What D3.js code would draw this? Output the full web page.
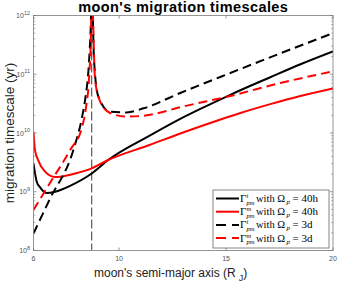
<!DOCTYPE html>
<html>
<head>
<meta charset="utf-8">
<script src="https://cdn.jsdelivr.net/npm/d3@7"></script>
<style>
  body { margin: 0; background: #fff; }
  svg { display: block; }
</style>
</head>
<body>
<div id="chart"></div>
<script>
// moon semi-major axis (R_J) and timescales (yr)
const xTidal40h = [6, 6.15, 6.3, 6.62, 7.01, 7.71, 8.72, 9.49, 11.45, 12.86, 13.8, 15.2, 17.07, 18.48, 20];
const tidal40h  = [3.0e9, 1.48e9, 1.2e9, 9.5e8, 1.0e9, 1.26e9, 2.04e9, 3.47e9, 9.1e9, 1.74e10, 2.57e10, 4.47e10, 8.9e10, 1.48e11, 2.45e11];

const xMig40h = [6, 6.07, 6.21, 6.54, 7.01, 7.24, 7.94, 8.72, 9.49, 11.45, 12.86, 14.26, 15.67, 17.07, 18.48, 20];
const mig40h  = [1.05e10, 5.1e9, 3.5e9, 2.2e9, 1.78e9, 1.8e9, 2.04e9, 2.5e9, 3.47e9, 6.3e9, 9.8e9, 1.48e10, 2.19e10, 3.1e10, 4.27e10, 5.75e10];

const xTidal3d = [6, 6.77, 7.86, 8.27, 8.41, 8.6, 8.67, 8.725, 8.83, 9.03, 9.58, 10.36, 11.14, 12.86, 15.2, 17.5, 20];
const tidal3d  = [1.95e8, 7.6e8, 5.1e9, 1.86e10, 3.6e10, 1.74e11, 5.6e11, 2.5e12, 1.74e11, 4.2e10, 2.3e10, 2.24e10, 2.63e10, 4.8e10, 1.05e11, 2.24e11, 5.0e11];

const xMig3d = [6, 6.77, 7.71, 8.27, 8.46, 8.6, 8.68, 8.725, 8.88, 9.11, 9.58, 10.36, 11.45, 12.86, 15.2, 17.54, 20];
const mig3d  = [4.9e8, 1.41e9, 5.1e9, 1.26e10, 2.8e10, 8.9e10, 4.0e11, 2.5e12, 7.9e10, 3.5e10, 2.19e10, 1.9e10, 2.04e10, 2.75e10, 4.27e10, 7.1e10, 1.12e11];

const corotation = 8.72;   // vertical dashed marker
const xTicks = [6, 10, 15, 20];
const yExps = [8, 9, 10, 11, 12];

const W = 338, H = 285;
const margin = { top: 15.5, right: 5, bottom: 34.5, left: 33.5 };

const svg = d3.select('#chart').append('svg')
  .attr('width', W)
  .attr('height', H);

const x = d3.scaleLinear().domain([6, 20]).range([margin.left, W - margin.right]);
const y = d3.scaleLog().domain([1e8, 1e12]).range([H - margin.bottom, margin.top]);

svg.append('clipPath').attr('id', 'plot')
  .append('rect')
  .attr('x', x(6)).attr('y', y(1e12))
  .attr('width', x(20) - x(6)).attr('height', y(1e8) - y(1e12));

const plot = svg.append('g').attr('clip-path', 'url(#plot)');

// vertical marker
plot.append('line')
  .attr('x1', x(corotation)).attr('x2', x(corotation))
  .attr('y1', y(1e12)).attr('y2', y(1e8))
  .attr('stroke', '#4d4d4d')
  .attr('stroke-width', 1.1)
  .attr('stroke-dasharray', '9,3');

const series = [
  { xs: xTidal40h, ys: tidal40h, color: '#000', dash: null },
  { xs: xMig40h, ys: mig40h, color: '#ff0000', dash: null },
  { xs: xTidal3d, ys: tidal3d, color: '#000', dash: '9,5' },
  { xs: xMig3d, ys: mig3d, color: '#ff0000', dash: '9,5' }
];

const line = d3.line()
  .x(d => x(d[0]))
  .y(d => y(d[1]))
  .curve(d3.curveMonotoneX);

series.forEach(s => {
  plot.append('path')
    .datum(s.xs.map((v, i) => [v, s.ys[i]]))
    .attr('fill', 'none')
    .attr('stroke', s.color)
    .attr('stroke-width', 2)
    .attr('stroke-dasharray', s.dash)
    .attr('d', line);
});

// axes box
const axisColor = '#7a7a7a';
const labelColor = '#555';
const x0 = x(6), x1 = x(20), y0 = y(1e8), y1 = y(1e12);

svg.append('rect')
  .attr('x', x0).attr('y', y1)
  .attr('width', x1 - x0).attr('height', y0 - y1)
  .attr('fill', 'none')
  .attr('stroke', axisColor)
  .attr('stroke-width', 0.8);

// x ticks, top and bottom, pointing in
xTicks.forEach(t => {
  svg.append('line').attr('x1', x(t)).attr('x2', x(t)).attr('y1', y0).attr('y2', y0 - 3)
    .attr('stroke', axisColor).attr('stroke-width', 0.8);
  svg.append('line').attr('x1', x(t)).attr('x2', x(t)).attr('y1', y1).attr('y2', y1 + 3)
    .attr('stroke', axisColor).attr('stroke-width', 0.8);
  svg.append('text')
    .attr('x', x(t)).attr('y', y0 + 10.5)
    .attr('text-anchor', 'middle')
    .attr('font-family', 'Liberation Sans, Arial, sans-serif')
    .attr('font-size', 7)
    .attr('fill', labelColor)
    .text(t);
});

// y ticks: majors and log minors on both sides
yExps.forEach(e => {
  const v = Math.pow(10, e);
  svg.append('line').attr('x1', x0).attr('x2', x0 + 3).attr('y1', y(v)).attr('y2', y(v))
    .attr('stroke', axisColor).attr('stroke-width', 0.8);
  svg.append('line').attr('x1', x1).attr('x2', x1 - 3).attr('y1', y(v)).attr('y2', y(v))
    .attr('stroke', axisColor).attr('stroke-width', 0.8);
  if (e < 12) {
    for (let m = 2; m <= 9; m++) {
      const mv = m * v;
      svg.append('line').attr('x1', x0).attr('x2', x0 + 1.8).attr('y1', y(mv)).attr('y2', y(mv))
        .attr('stroke', axisColor).attr('stroke-width', 0.6);
      svg.append('line').attr('x1', x1).attr('x2', x1 - 1.8).attr('y1', y(mv)).attr('y2', y(mv))
        .attr('stroke', axisColor).attr('stroke-width', 0.6);
    }
  }
  const lbl = svg.append('text')
    .attr('x', x0 - 3.5).attr('y', y(v) + 2.5)
    .attr('text-anchor', 'end')
    .attr('font-family', 'Liberation Sans, Arial, sans-serif')
    .attr('font-size', 7)
    .attr('fill', labelColor);
  lbl.append('tspan').text('10');
  lbl.append('tspan').attr('dy', -3.5).attr('font-size', 5.5).text(e);
});

// title and axis labels
svg.append('text')
  .attr('x', (x0 + x1) / 2).attr('y', 12)
  .attr('text-anchor', 'middle')
  .attr('font-family', 'Liberation Sans, Arial, sans-serif')
  .attr('font-size', 14.5)
  .attr('font-weight', 'bold')
  .attr('letter-spacing', 0.4)
  .attr('fill', '#000')
  .text("moon's migration timescales");

svg.append('text')
  .attr('transform', `translate(13.5,${(y0 + y1) / 2}) rotate(-90)`)
  .attr('text-anchor', 'middle')
  .attr('font-family', 'Liberation Sans, Arial, sans-serif')
  .attr('font-size', 13.5)
  .attr('fill', '#222')
  .text('migration timescale (yr)');

const xl = svg.append('text')
  .attr('x', 94).attr('y', 277)
  .attr('font-family', 'Liberation Sans, Arial, sans-serif')
  .attr('font-size', 12)
  .attr('fill', '#222');
xl.append('tspan').text("moon's semi-major axis (R");
xl.append('tspan').attr('dx', 3).attr('dy', 4).attr('font-size', 9).text('J');
xl.append('tspan').attr('dy', -4).text(')');

// legend
const legendItems = [
  { sup: 't', val: '40h', color: '#000', dash: null },
  { sup: 'm', val: '40h', color: '#ff0000', dash: null },
  { sup: 't', val: '3d', color: '#000', dash: '10,6' },
  { sup: 'm', val: '3d', color: '#ff0000', dash: '10,6' }
];

const lg = svg.append('g');
lg.append('rect')
  .attr('x', 213).attr('y', 190)
  .attr('width', 116).attr('height', 58)
  .attr('fill', '#fff')
  .attr('stroke', '#666')
  .attr('stroke-width', 0.8);

const serif = 'Liberation Serif, Times New Roman, serif';
legendItems.forEach((d, i) => {
  const cy = 198.5 + i * 13.2;
  lg.append('line')
    .attr('x1', 216).attr('x2', 239)
    .attr('y1', cy).attr('y2', cy)
    .attr('stroke', d.color)
    .attr('stroke-width', 2)
    .attr('stroke-dasharray', d.dash);
  const base = cy + 3.5;
  lg.append('text').attr('x', 240).attr('y', base)
    .attr('font-family', serif).attr('font-size', 11).text('Γ');
  lg.append('text').attr('x', 246.5).attr('y', base - 4)
    .attr('font-family', serif).attr('font-size', 6.5).attr('font-style', 'italic').text(d.sup);
  lg.append('text').attr('x', 246.5).attr('y', base + 2.5)
    .attr('font-family', serif).attr('font-size', 6.5).attr('font-style', 'italic').text('pm');
  lg.append('text').attr('x', 256).attr('y', base)
    .attr('font-family', serif).attr('font-size', 10.5).text('with Ω');
  lg.append('text').attr('x', 286.5).attr('y', base + 2)
    .attr('font-family', serif).attr('font-size', 7).attr('font-style', 'italic').text('p');
  lg.append('text').attr('x', 292.5).attr('y', base)
    .attr('font-family', serif).attr('font-size', 11).text('= ' + d.val);
});
</script>
</body>
</html>
